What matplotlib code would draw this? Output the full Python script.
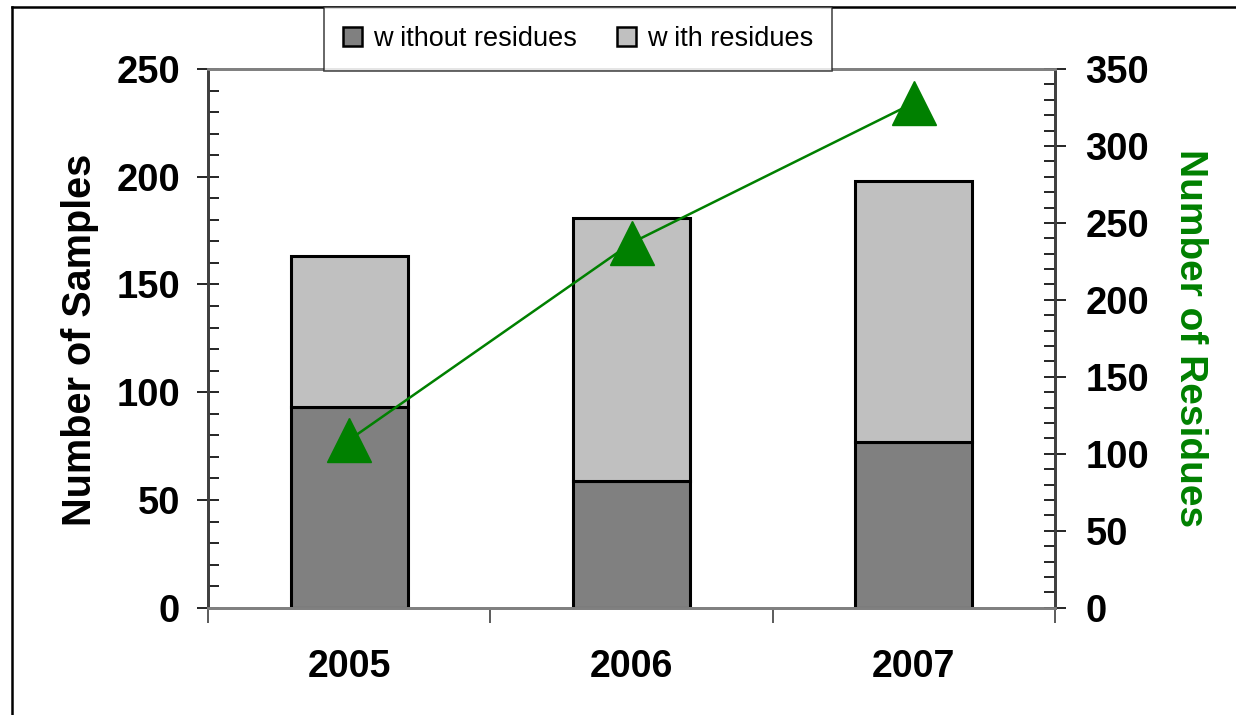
import matplotlib
matplotlib.use('Agg')
import matplotlib.pyplot as plt
import matplotlib.patches as mpatches
from matplotlib.ticker import MultipleLocator
import numpy as np

plt.rcParams['font.family'] = ['Liberation Sans', 'DejaVu Sans']

# data
years = ['2005', '2006', '2007']
without_res = [93, 59, 77]
with_res = [70, 122, 121]
n_residues = [109, 237, 328]

dark = '#808080'
light = '#C0C0C0'
green = '#008000'

fig = plt.figure(figsize=(12.36, 7.15), dpi=100)
ax = fig.add_axes([208/1236, 1 - 607.7/715, (1055 - 208)/1236, (607.7 - 69)/715])
ax2 = ax.twinx()

x = np.arange(len(years))
w = 0.415
ax.bar(x, without_res, w, color=dark, edgecolor='black', linewidth=2.2, zorder=2)
ax.bar(x, with_res, w, bottom=without_res, color=light, edgecolor='black', linewidth=2.2, zorder=2)

ax2.plot(x, n_residues, color=green, lw=1.8, marker='^', markersize=32,
         markeredgecolor=green, markerfacecolor=green, zorder=3)

ax.set_xlim(-0.5, 2.5)
ax.set_ylim(0, 250)
ax2.set_ylim(0, 350)

# axis ticks
ax.yaxis.set_major_locator(MultipleLocator(50))
ax.yaxis.set_minor_locator(MultipleLocator(10))
ax2.yaxis.set_major_locator(MultipleLocator(50))
ax2.yaxis.set_minor_locator(MultipleLocator(10))
ax.set_xticks([-0.5, 0.5, 1.5, 2.5])
ax.set_xticklabels([])
ax.tick_params(axis='x', which='major', direction='out', length=11, width=1.2, color='#404040')
ax.tick_params(axis='y', which='major', direction='inout', length=16, width=1.2,
               labelsize=27.5, pad=12)
ax.tick_params(axis='y', which='minor', direction='in', length=8, width=1.2)
ax2.tick_params(axis='y', which='major', direction='inout', length=16, width=1.2,
                labelsize=27.5, pad=14)
ax2.tick_params(axis='y', which='minor', direction='in', length=8, width=1.2)
for a in (ax, ax2):
    for lab in a.get_yticklabels():
        lab.set_fontweight('bold')

# category labels between the boundary ticks
for xi, yr in zip(x, years):
    ax.text(xi, -0.11, yr, transform=ax.get_xaxis_transform(), ha='center', va='center',
            fontsize=27, fontweight='bold')

for a in (ax, ax2):
    a.spines['top'].set_color('#808080')
    a.spines['bottom'].set_color('#808080')
    a.spines['top'].set_linewidth(2)
    a.spines['bottom'].set_linewidth(2)
    a.spines['left'].set_color('#404040')
    a.spines['right'].set_color('#404040')
    a.spines['left'].set_linewidth(2)
    a.spines['right'].set_linewidth(2)

fig.text(80/1236, 1 - 340/715, 'Number of Samples', rotation=90, ha='center', va='center',
         fontsize=28.5, fontweight='bold')
fig.text(1190/1236, 1 - 338/715, 'Number of Residues', rotation=270, ha='center', va='center',
         fontsize=28, fontweight='bold', color=green)

handles = [mpatches.Patch(facecolor=dark, edgecolor='black', linewidth=1.8, label='w ithout residues'),
           mpatches.Patch(facecolor=light, edgecolor='black', linewidth=1.8, label='w ith residues')]
leg = fig.legend(handles=handles, loc='center', ncol=2, mode='expand',
                 bbox_to_anchor=(324/1236, 1 - 71/715, (832 - 324)/1236, 64/715),
                 fontsize=19.5, frameon=True, fancybox=False, borderpad=0.7,
                 handlelength=0.7, handleheight=0.7, handletextpad=0.4,
                 columnspacing=1.6, borderaxespad=0)
leg.get_frame().set_edgecolor('#202020')
leg.get_frame().set_linewidth(1.2)

# outer chart border (left and top visible)
fig.add_artist(plt.Line2D([12/1236, 12/1236], [0, 1 - 7/715], color='black', lw=1.8,
                          transform=fig.transFigure))
fig.add_artist(plt.Line2D([12/1236, 1], [1 - 7/715, 1 - 7/715], color='black', lw=1.8,
                          transform=fig.transFigure))

fig.savefig('out.png', dpi=100)
